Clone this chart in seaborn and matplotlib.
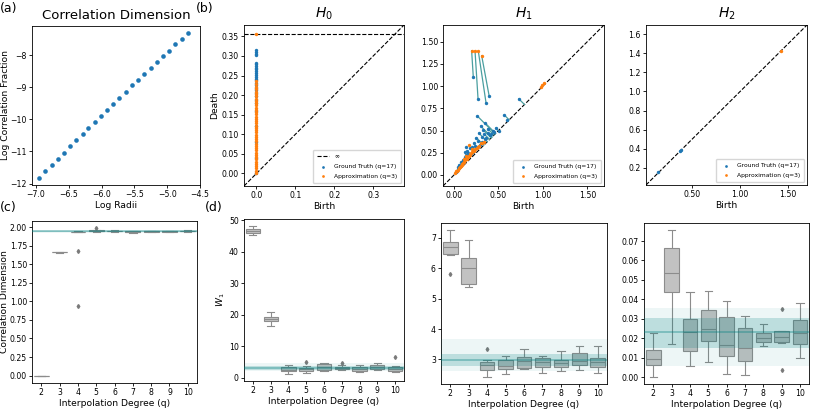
import numpy as np
import pandas as pd
import matplotlib
matplotlib.use('Agg')
import matplotlib.pyplot as plt
import seaborn as sns

# (a) Correlation dimension fit
log_radii = [-6.95, -6.86, -6.76, -6.67, -6.57, -6.48, -6.39, -6.29, -6.20, -6.10, -6.01, -5.91, -5.82,
             -5.73, -5.63, -5.54, -5.44, -5.35, -5.25, -5.16, -5.07, -4.97, -4.88, -4.78, -4.69]
log_corr = [-11.82, -11.62, -11.41, -11.22, -11.04, -10.83, -10.64, -10.45, -10.26, -10.07, -9.88, -9.70, -9.51,
            -9.32, -9.13, -8.94, -8.76, -8.57, -8.39, -8.21, -8.02, -7.85, -7.66, -7.49, -7.31]

# (b) persistence diagrams
h0_inf = 0.357
h0_gt_death = [0.315, 0.311, 0.306, 0.302, 0.283, 0.279, 0.275, 0.27, 0.266, 0.262, 0.257, 0.252, 0.247,
               0.242, 0.238, 0.232, 0.226, 0.219, 0.212, 0.205, 0.197, 0.188, 0.179, 0.16, 0.12, 0.08, 0.04, 0.0]
h0_ap_death = [0.001, 0.007, 0.013, 0.019, 0.024, 0.03, 0.036, 0.042, 0.047, 0.053, 0.059, 0.065, 0.07,
               0.076, 0.082, 0.088, 0.094, 0.099, 0.105, 0.111, 0.117, 0.122, 0.128, 0.134, 0.14, 0.145,
               0.151, 0.157, 0.163, 0.168, 0.174, 0.18, 0.186, 0.191, 0.197, 0.203, 0.209, 0.215, 0.221,
               0.228, 0.235]

h1_gt_birth = [0.217, 0.27, 0.36, 0.395, 0.73, 0.565, 0.60, 0.262, 0.47, 0.51, 0.44, 0.30, 0.35, 0.33, 0.385,
               0.41, 0.28, 0.31, 0.25, 0.27, 0.22, 0.18, 0.20, 0.15, 0.13, 0.16, 0.12, 0.10, 0.08, 0.06, 0.05,
               0.04, 0.03, 0.09, 0.11, 0.14, 0.17, 0.19, 0.21, 0.23, 0.24, 0.26, 0.29, 0.32, 0.345, 0.36, 0.42,
               0.45, 0.07, 0.02, 0.12, 0.14, 0.38, 0.34]
h1_gt_death = [1.098, 0.858, 0.812, 0.89, 0.855, 0.675, 0.62, 0.663, 0.525, 0.50, 0.49, 0.55, 0.585, 0.505, 0.47,
               0.45, 0.47, 0.43, 0.42, 0.38, 0.36, 0.305, 0.315, 0.27, 0.23, 0.245, 0.20, 0.17, 0.145, 0.115, 0.09,
               0.07, 0.05, 0.125, 0.15, 0.19, 0.21, 0.24, 0.26, 0.285, 0.33, 0.31, 0.34, 0.37, 0.40, 0.42, 0.46,
               0.48, 0.10, 0.035, 0.26, 0.31, 0.52, 0.46]
h1_ap_birth = [0.198, 0.236, 0.273, 0.311, 0.975, 0.995, 1.015, 0.17, 0.015, 0.025, 0.035, 0.045, 0.055, 0.065,
               0.075, 0.085, 0.095, 0.105, 0.115, 0.125, 0.135, 0.145, 0.155, 0.165, 0.175, 0.185, 0.195, 0.205,
               0.215, 0.225, 0.24, 0.255, 0.27, 0.285, 0.30, 0.32, 0.335, 0.20, 0.14, 0.11]
h1_ap_death = [1.398, 1.398, 1.394, 1.342, 0.99, 1.01, 1.04, 0.335, 0.025, 0.04, 0.05, 0.06, 0.075, 0.085,
               0.10, 0.11, 0.12, 0.135, 0.15, 0.165, 0.175, 0.18, 0.20, 0.215, 0.22, 0.235, 0.25, 0.26,
               0.265, 0.275, 0.29, 0.30, 0.315, 0.33, 0.355, 0.365, 0.37, 0.29, 0.21, 0.18]
# matching: first four ground-truth points go to first four approximation points
h1_n_matched = 4
# ground-truth points matched to the diagonal
h1_diag_idx = [4, 5, 7, 8, 11, 12, 13, 16, 18, 52, 53, 10, 14]

h2_gt_birth = [0.14, 0.37, 0.38]
h2_gt_death = [0.15, 0.38, 0.39]
h2_ap_birth = [1.425]
h2_ap_death = [1.43]

# (c), (d) box plots over interpolation degree
degrees = [2, 3, 4, 5, 6, 7, 8, 9, 10]
corr_dim = [[0.0, 0.0, 0.0, 0.0, 0.0],
            [1.655, 1.659, 1.662, 1.664, 1.667],
            [0.937, 1.672, 1.928, 1.931, 1.933, 1.935, 1.937, 1.939, 1.941],
            [1.938, 1.941, 1.943, 1.946, 1.948, 1.951, 1.955, 1.962, 1.982],
            [1.938, 1.943, 1.948, 1.952, 1.956],
            [1.925, 1.932, 1.938, 1.944, 1.95],
            [1.932, 1.937, 1.942, 1.947, 1.952],
            [1.932, 1.937, 1.942, 1.947, 1.952],
            [1.936, 1.941, 1.946, 1.951, 1.956]]
w1_h0 = [[45.2, 45.9, 46.6, 47.3, 48.0],
         [16.3, 17.9, 18.6, 19.3, 20.9],
         [1.3, 2.0, 2.6, 3.3, 3.9],
         [1.5, 1.9, 2.2, 2.5, 2.7, 2.9, 3.2, 3.8, 5.1],
         [2.0, 2.6, 3.4, 4.2, 4.6],
         [2.6, 2.8, 2.9, 3.1, 3.2, 3.3, 3.5, 3.9, 4.6],
         [1.8, 2.1, 2.8, 3.4, 4.1],
         [2.3, 2.8, 3.4, 4.0, 4.7],
         [1.9, 2.0, 2.0, 2.3, 2.7, 3.1, 3.5, 3.8, 6.6]]
w1_h1 = [[5.82, 6.45, 6.47, 6.58, 6.69, 6.78, 6.87, 7.05, 7.25],
         [5.38, 5.48, 6.02, 6.33, 6.93],
         [2.43, 2.55, 2.66, 2.75, 2.83, 2.87, 2.90, 2.97, 3.33],
         [2.52, 2.69, 2.79, 2.98, 3.10],
         [2.67, 2.70, 2.93, 3.08, 3.33],
         [2.55, 2.74, 2.90, 3.03, 3.12],
         [2.61, 2.74, 2.88, 2.98, 3.28],
         [2.65, 2.80, 2.96, 3.20, 3.45],
         [2.55, 2.74, 2.91, 3.04, 3.43]]
w1_h2 = [[0.0002, 0.006, 0.0095, 0.0138, 0.0225],
         [0.017, 0.0437, 0.0533, 0.0662, 0.0755],
         [0.0055, 0.0135, 0.0231, 0.0298, 0.0438],
         [0.0077, 0.0184, 0.0245, 0.0346, 0.0443],
         [0.0017, 0.011, 0.0165, 0.0307, 0.039],
         [0.0013, 0.0085, 0.015, 0.025, 0.0315],
         [0.0158, 0.018, 0.0199, 0.0226, 0.0275],
         [0.0035, 0.0173, 0.0183, 0.0195, 0.0205, 0.0220, 0.0235, 0.0235, 0.0348],
         [0.0098, 0.0168, 0.0225, 0.0293, 0.038]]
# ground truth reference bands: (outer low, outer high), (inner low, inner high), mean
cd_band = [(1.915, 1.965), (1.928, 1.952), 1.94]
h0_band = [(2.0, 4.7), (2.5, 3.8), 3.1]
h1_band = [(2.63, 3.66), (2.79, 3.18), 2.98]
h2_band = [(0.0055, 0.0354), (0.0149, 0.0302), 0.0232]

plt.rcParams['axes.linewidth'] = 0.6
plt.rcParams['xtick.major.width'] = 0.6
plt.rcParams['ytick.major.width'] = 0.6
plt.rcParams['xtick.major.size'] = 2.2
plt.rcParams['ytick.major.size'] = 2.2
plt.rcParams['xtick.major.pad'] = 1.5
plt.rcParams['ytick.major.pad'] = 1.5
plt.rcParams['xtick.labelsize'] = 5.6
plt.rcParams['ytick.labelsize'] = 5.6
plt.rcParams['axes.labelsize'] = 6.6
plt.rcParams['axes.labelpad'] = 1.5

W, H = 831, 411
fig = plt.figure(figsize=(W / 100, H / 100), dpi=100)


def px_axes(x0, y0, x1, y1):
    return fig.add_axes([x0 / W, 1 - y1 / H, (x1 - x0) / W, (y1 - y0) / H])


ax_a = px_axes(32, 26, 200, 185)
ax_h0 = px_axes(244, 25, 404, 186)
ax_h1 = px_axes(443, 25, 604, 186)
ax_h2 = px_axes(646, 25, 807, 185)
ax_c = px_axes(32, 221, 197, 383)
ax_d0 = px_axes(244, 219, 404, 381)
ax_d1 = px_axes(441, 223, 607, 384)
ax_d2 = px_axes(644, 223, 809, 384)

# (a)
sns.scatterplot(x=log_radii, y=log_corr, ax=ax_a, color='#1f77b4', s=11, linewidth=0)
ax_a.set_xlim(-7.06, -4.5)
ax_a.set_xlabel('Log Radii')
ax_a.set_ylabel('Log Correlation Fraction', labelpad=0.5)
ax_a.set_title('Correlation Dimension', fontsize=9.5, pad=5)

link_color = '#4a9fa0'


def diagram(ax, gt_b, gt_d, ap_b, ap_d, lims, inf=None):
    ax.plot(lims, lims, ls='--', color='k', lw=0.8, zorder=1)
    if inf is not None:
        ax.plot(lims, [inf, inf], ls='--', color='k', lw=0.8, label=r'$\infty$', zorder=1)
    sns.scatterplot(x=gt_b, y=gt_d, ax=ax, color='#1f77b4', s=6, linewidth=0,
                    label='Ground Truth (q=17)', zorder=3)
    sns.scatterplot(x=ap_b, y=ap_d, ax=ax, color='#ff7f0e', s=6, linewidth=0,
                    label='Approximation (q=3)', zorder=3)
    ax.set_xlim(lims)
    ax.set_ylim(lims)
    ax.set_xlabel('Birth')
    ax.set_ylabel('')
    ax.legend(loc='lower right', fontsize=4.3, markerscale=0.8, handlelength=2.0,
              borderpad=0.7, labelspacing=0.7, handletextpad=0.8)


h0_lims = [-0.032, 0.379]
diagram(ax_h0, [0.0] * len(h0_gt_death), h0_gt_death,
        [0.0] * (len(h0_ap_death) + 1), h0_ap_death + [h0_inf], h0_lims, inf=h0_inf)
ax_h0.set_xticks([0.0, 0.1, 0.2, 0.3])
ax_h0.set_yticks([0.0, 0.05, 0.1, 0.15, 0.2, 0.25, 0.3, 0.35])
ax_h0.set_yticklabels(['0.00', '0.05', '0.10', '0.15', '0.20', '0.25', '0.30', '0.35'])
ax_h0.set_ylabel('Death')
ax_h0.set_title('$H_0$', fontsize=10, pad=5)

h1_lims = [-0.124, 1.687]
for i in range(h1_n_matched):
    ax_h1.plot([h1_gt_birth[i], h1_ap_birth[i]], [h1_gt_death[i], h1_ap_death[i]],
               color=link_color, lw=0.9, zorder=2)
for i in h1_diag_idx:
    mid = (h1_gt_birth[i] + h1_gt_death[i]) / 2
    ax_h1.plot([h1_gt_birth[i], mid], [h1_gt_death[i], mid], color=link_color, lw=0.9, zorder=2)
diagram(ax_h1, h1_gt_birth, h1_gt_death, h1_ap_birth, h1_ap_death, h1_lims)
ax_h1.set_xticks([0, 0.5, 1.0, 1.5])
ax_h1.set_xticklabels(['0.00', '0.50', '1.00', '1.50'])
ax_h1.set_yticks([0, 0.25, 0.5, 0.75, 1.0, 1.25, 1.5])
ax_h1.set_yticklabels(['0.00', '0.25', '0.50', '0.75', '1.00', '1.25', '1.50'])
ax_h1.set_title('$H_1$', fontsize=10, pad=5)

h2_lims = [0.018, 1.698]
diagram(ax_h2, h2_gt_birth, h2_gt_death, h2_ap_birth, h2_ap_death, h2_lims)
ax_h2.set_xticks([0.5, 1.0, 1.5])
ax_h2.set_xticklabels(['0.50', '1.00', '1.50'])
ax_h2.set_yticks([0.2, 0.4, 0.6, 0.8, 1.0, 1.2, 1.4, 1.6])
ax_h2.set_title('$H_2$', fontsize=10, pad=5)


def box_panel(ax, samples, band, ylabel=''):
    df = pd.DataFrame({'q': np.repeat(degrees, [len(s) for s in samples]),
                       'v': np.concatenate(samples)})
    sns.boxplot(data=df, x='q', y='v', ax=ax, color='#c2c2c2', linecolor='#8c8c8c',
                linewidth=0.8, fliersize=2, width=0.8,
                flierprops=dict(marker='d', markerfacecolor='#7a7a7a', markeredgecolor='#7a7a7a'))
    (o_lo, o_hi), (i_lo, i_hi), mean = band
    ax.axhspan(o_lo, o_hi, color='teal', alpha=0.07, lw=0, zorder=4)
    ax.axhspan(i_lo, i_hi, color='teal', alpha=0.2, lw=0, zorder=4)
    ax.axhline(mean, color='teal', alpha=0.4, lw=1.2, zorder=4)
    ax.set_xlabel('Interpolation Degree (q)')
    ax.set_ylabel(ylabel)


box_panel(ax_c, corr_dim, cd_band, 'Correlation Dimension')
ax_c.set_yticks([0, 0.25, 0.5, 0.75, 1.0, 1.25, 1.5, 1.75, 2.0])
ax_c.set_yticklabels(['0.00', '0.25', '0.50', '0.75', '1.00', '1.25', '1.50', '1.75', '2.00'])
ax_c.yaxis.labelpad = 0.5
box_panel(ax_d0, w1_h0, h0_band, '$W_1$')
box_panel(ax_d1, w1_h1, h1_band)
box_panel(ax_d2, w1_h2, h2_band)

fig.text(0.0, 0.995, '(a)', fontsize=9, va='top')
fig.text(0.236, 0.995, '(b)', fontsize=9, va='top')
fig.text(0.0, 0.512, '(c)', fontsize=9, va='top')
fig.text(0.246, 0.512, '(d)', fontsize=9, va='top')

fig.savefig('out.png', dpi=100)
